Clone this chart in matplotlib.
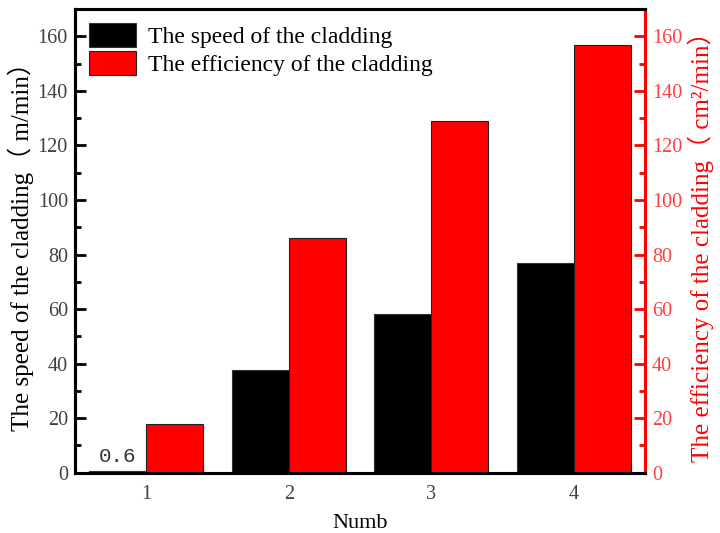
import matplotlib
matplotlib.use('Agg')
import matplotlib.pyplot as plt
import numpy as np
from matplotlib.ticker import MultipleLocator

categories = [1, 2, 3, 4]
speed = [0.6, 37.8, 58.2, 77.0]          # m/min
efficiency = [17.9, 85.9, 128.8, 157.0]  # cm2/min

plt.rcParams['font.family'] = ['Liberation Serif', 'Noto Sans CJK SC']
plt.rcParams['axes.linewidth'] = 2.2

fig = plt.figure(figsize=(7.2, 5.33), dpi=100)
ax = fig.add_axes([0.104, 0.113, 0.792, 0.87])
ax2 = ax.twinx()

x = np.array(categories)
w = 0.4
ax.bar(x - w / 2, speed, w, color='black', edgecolor='#333333', lw=0.8,
       label='The speed of the cladding')
ax2.bar(x + w / 2, efficiency, w, color='red', edgecolor='#222222', lw=0.8)
# proxy for legend entry of the right axis
ax.bar([0], [0], w, color='red', edgecolor='#222222', lw=0.8,
       label='The efficiency of the cladding')

ax.text(x[0] - w / 2, speed[0] + 2, '0.6', ha='center', va='bottom',
        fontsize=15, family='Liberation Mono', color='#333333')

for a in (ax, ax2):
    a.set_ylim(0, 170)
    a.yaxis.set_major_locator(MultipleLocator(20))
    a.yaxis.set_minor_locator(MultipleLocator(10))
ax.set_xlim(0.5, 4.5)
ax.set_xticks(categories)
ax.set_xticklabels([str(c) for c in categories])

ax.tick_params(axis='y', which='major', direction='in', length=8, width=2,
               labelsize=14.5, labelcolor='#404040', pad=5)
ax.tick_params(axis='y', which='minor', direction='in', length=4, width=2)
ax.tick_params(axis='x', length=0, labelsize=14.5, labelcolor='#404040', pad=9)
ax2.tick_params(axis='y', which='major', direction='in', length=8, width=2,
                labelsize=14.5, colors='red', labelcolor='#ff4040', pad=5)
ax2.tick_params(axis='y', which='minor', direction='in', length=4, width=2,
                colors='red')
ax2.spines['right'].set_color('red')
ax2.spines['right'].set_linewidth(2.2)

ax.set_xlabel('Numb', fontsize=16, labelpad=7)
ax.set_ylabel('The speed of the cladding（ m/min）', fontsize=18, labelpad=3)
ax2.set_ylabel('The efficiency of the cladding（ cm²/min）', fontsize=18,
               color='red', labelpad=4)

ax.legend(loc='upper left', frameon=False, fontsize=17, handlelength=2.0,
          handleheight=1.15, borderaxespad=0.4, labelspacing=0.15,
          handletextpad=0.5, borderpad=0.2)

fig.savefig('out.png', dpi=100)
